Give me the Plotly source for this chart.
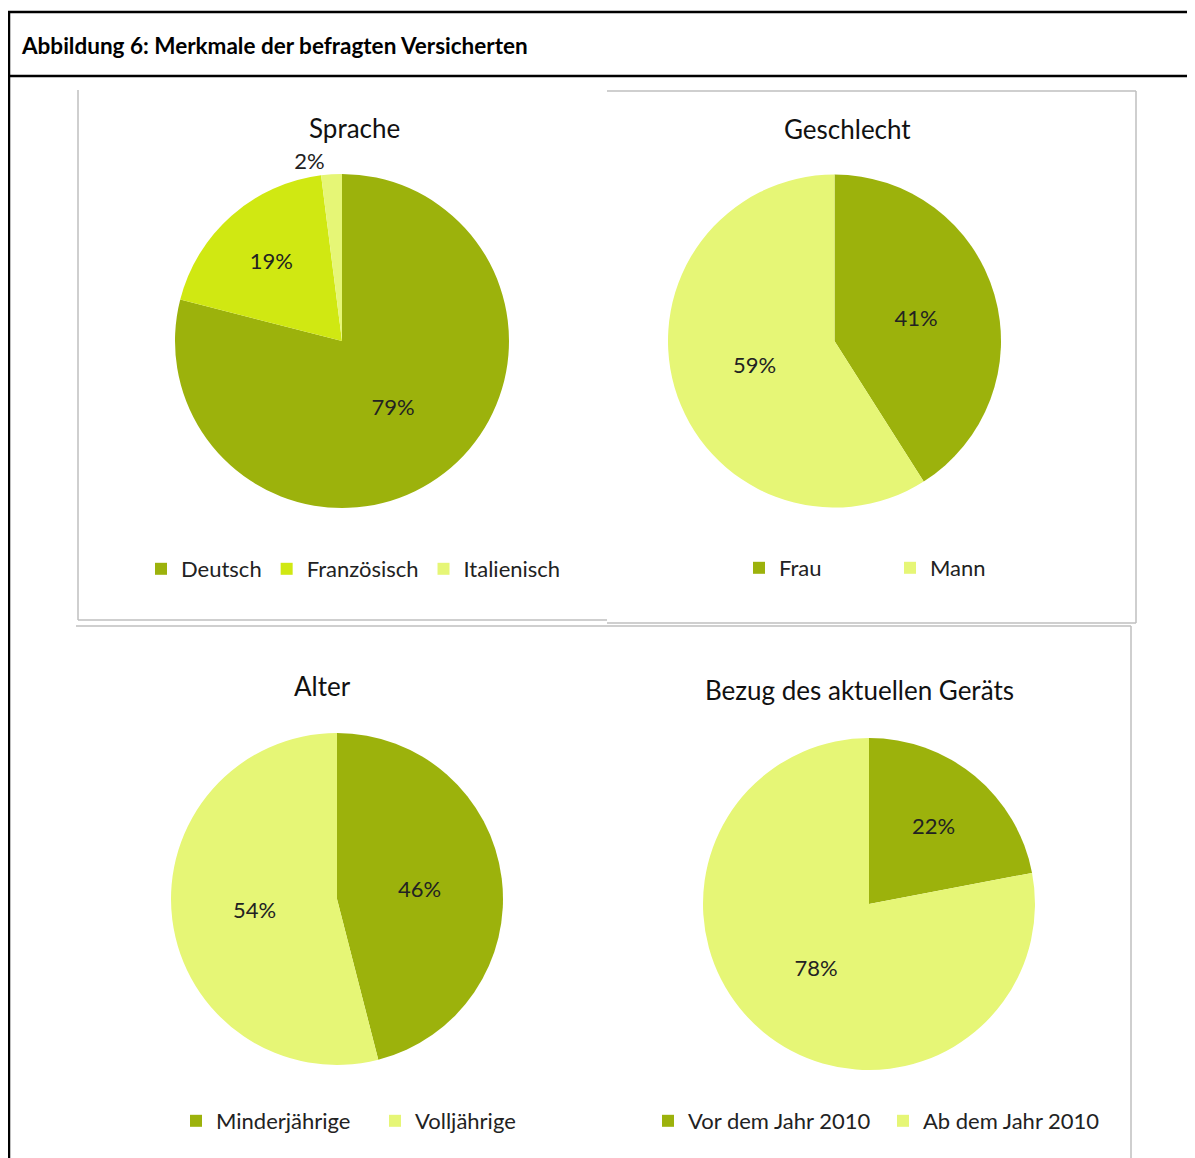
import plotly.graph_objects as go

OFF = 8  # page body margin
W, H = 1195 - OFF, 1158 - OFF
FONT = "Lato"

# Data
sprache_labels = ["Deutsch", "Französisch", "Italienisch"]
sprache_values = [79, 19, 2]
geschlecht_labels = ["Frau", "Mann"]
geschlecht_values = [41, 59]
alter_labels = ["Minderjährige", "Volljährige"]
alter_values = [46, 54]
bezug_labels = ["Vor dem Jahr 2010", "Ab dem Jahr 2010"]
bezug_values = [22, 78]

titles = ["Sprache", "Geschlecht", "Alter", "Bezug des aktuellen Geräts"]

DARK = "#9CB20C"
MID = "#D0E812"
LIGHT = "#E6F676"


def px(x):
    return (x - OFF) / W


def py(y):
    return 1 - (y - OFF) / H


def dom(cx, cy, r):
    return dict(x=[px(cx - r), px(cx + r)], y=[py(cy + r), py(cy - r)])


fig = go.Figure()

specs = [
    (sprache_labels, sprache_values, [DARK, MID, LIGHT], (342, 341, 167), "legend",
     ["inside", "inside", "outside"]),
    (geschlecht_labels, geschlecht_values, [DARK, LIGHT], (834.5, 341, 166.5), "legend2", "inside"),
    (alter_labels, alter_values, [DARK, LIGHT], (337, 899, 166), "legend3", "inside"),
    (bezug_labels, bezug_values, [DARK, LIGHT], (869, 904, 166), "legend4", "inside"),
]

for labels, values, colors, (cx, cy, r), leg, tpos in specs:
    fig.add_trace(go.Pie(
        labels=labels, values=values, sort=False, direction="clockwise", rotation=0,
        marker=dict(colors=colors, line=dict(width=0)),
        domain=dom(cx, cy, r),
        texttemplate="%{percent:.0%}", textposition=tpos,
        insidetextorientation="horizontal",
        textfont=dict(family=FONT, size=22, color="#222222"),
        hoverinfo="label+percent",
        legend=leg, showlegend=True,
    ))

legend_common = dict(orientation="h", font=dict(family=FONT, size=22, color="#222222"),
                     bgcolor="rgba(0,0,0,0)", yanchor="middle", xanchor="left",
                     itemclick=False, itemdoubleclick=False)

fig.update_layout(
    width=W, height=H,
    margin=dict(l=0, r=0, t=0, b=0),
    paper_bgcolor="white", plot_bgcolor="white",
    legend=dict(**legend_common, x=px(141), y=py(569)),
    legend2=dict(**legend_common, x=px(739), y=py(568), entrywidth=106, entrywidthmode="pixels"),
    legend3=dict(**legend_common, x=px(176), y=py(1121), entrywidth=154, entrywidthmode="pixels"),
    legend4=dict(**legend_common, x=px(648), y=py(1121), entrywidth=190, entrywidthmode="pixels"),
)

# Titles
title_pos = [(354, 128), (847, 129), (322, 686), (859, 690)]
for t, (x, y) in zip(titles, title_pos):
    fig.add_annotation(text=t, x=px(x), y=py(y), xref="paper", yref="paper",
                       showarrow=False, xanchor="center", yanchor="middle",
                       font=dict(family=FONT, size=26, color="#111111"))

# Header
fig.add_annotation(text="<b>Abbildung 6: Merkmale der befragten Versicherten</b>",
                   x=px(19), y=py(46), xref="paper", yref="paper", showarrow=False,
                   xanchor="left", yanchor="middle",
                   font=dict(family=FONT, size=22.5, color="#000000"))


def line(x0, y0, x1, y1, color, width):
    fig.add_shape(type="line", xref="paper", yref="paper",
                  x0=px(x0), y0=py(y0), x1=px(x1), y1=py(y1),
                  line=dict(color=color, width=width))


# Outer black frame
line(9, 12, 9, 1160, "black", 2.5)
line(8, 12, 1200, 12, "black", 2.5)
line(8, 76, 1200, 76, "black", 2.5)

GREY = "#BFBFBF"
# Top-left panel
line(78, 90, 78, 620, GREY, 1.5)
line(78, 620, 607, 620, GREY, 1.5)
# Top-right panel
line(607, 91, 1136, 91, GREY, 1.5)
line(1136, 91, 1136, 623, GREY, 1.5)
line(607, 623, 1136, 623, GREY, 1.5)
# Bottom panel
line(76, 626, 1131, 626, GREY, 1.5)
line(1131, 626, 1131, 1160, GREY, 1.5)

fig.write_html("out.html")
